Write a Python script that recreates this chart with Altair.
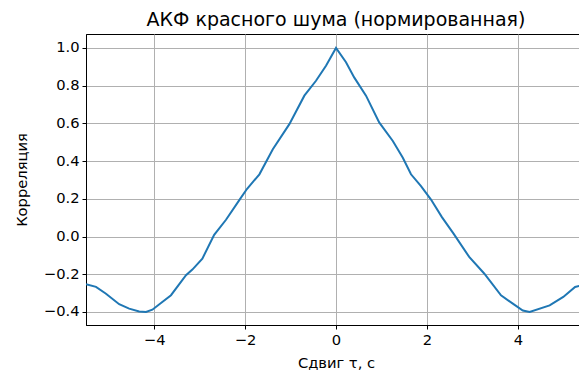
import altair as alt
import pandas as pd

tau = [-5.5, -5.28, -5.06, -4.77, -4.55, -4.33, -4.18, -4.04, -3.85, -3.63, -3.30,
       -3.16, -2.94, -2.68, -2.42, -2.12, -1.96, -1.685, -1.39, -1.026, -0.696, -0.44,
       -0.22, 0.0, 0.22, 0.40, 0.66, 0.95, 1.25, 1.47, 1.65, 1.87, 2.09, 2.33, 2.59,
       2.93, 3.26, 3.63, 3.89, 4.11, 4.26, 4.70, 5.0, 5.26, 5.5]
acf = [-0.253, -0.267, -0.303, -0.359, -0.382, -0.397, -0.400, -0.388, -0.352, -0.311, -0.205,
       -0.175, -0.117, 0.009, 0.089, 0.196, 0.252, 0.33, 0.463, 0.596, 0.747, 0.826,
       0.906, 1.0, 0.924, 0.844, 0.747, 0.605, 0.507, 0.418, 0.33, 0.267, 0.196, 0.103, 0.014,
       -0.108, -0.196, -0.312, -0.356, -0.392, -0.400, -0.365, -0.32, -0.267, -0.253]

df = pd.DataFrame({"tau": tau, "acf": acf})

x_ticks = [-4, -2, 0, 2, 4]
y_ticks = [-0.4, -0.2, 0.0, 0.2, 0.4, 0.6, 0.8, 1.0]

FONT = "DejaVu Sans"

chart = alt.Chart(df).mark_line(color="#1f77b4", strokeWidth=2, clip=True).encode(
    x=alt.X("tau:Q", scale=alt.Scale(domain=[-5.5, 5.5], nice=False, zero=False),
            axis=alt.Axis(values=x_ticks, title="Сдвиг τ, с",
                          labelExpr="replace(format(datum.value, 'd'), '-', '−')",
                          titleX=250, titleY=42, titleBaseline="alphabetic")),
    y=alt.Y("acf:Q", scale=alt.Scale(domain=[-0.469, 1.074], nice=False, zero=False),
            axis=alt.Axis(values=y_ticks, title="Корреляция",
                          labelExpr="replace(format(datum.value, '.1f'), '-', '−')",
                          titleX=-60, titleY=145.5, titleAngle=-90,
                          titleAlign="center", titleBaseline="alphabetic")),
).properties(
    width=500, height=291,
    title=alt.TitleParams("АКФ красного шума (нормированная)", font=FONT, fontSize=19,
                          fontWeight="normal", color="black", anchor="middle",
                          offset=7, dy=3),
    autosize=alt.AutoSizeParams(type="none"),
    padding={"left": 78, "top": 26, "right": -7, "bottom": 48},
).configure_view(
    stroke="black", strokeWidth=1
).configure_axis(
    labelFont=FONT, labelFontSize=14.7, labelColor="black",
    titleFont=FONT, titleFontSize=14.7, titleColor="black", titleFontWeight="normal",
    domainColor="black", domainWidth=1,
    tickColor="black", tickSize=4, tickWidth=1,
    labelPadding=3,
    grid=True, gridColor="#b0b0b0", gridWidth=1,
)

chart.save("out.html", embed_options={"renderer": "svg", "actions": False})
